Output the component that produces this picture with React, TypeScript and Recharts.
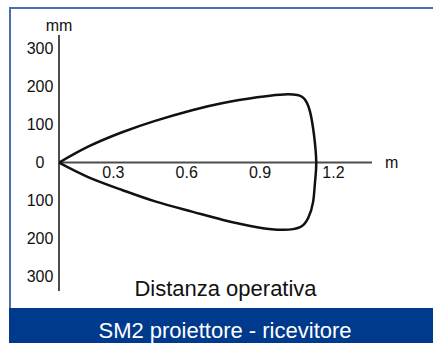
import { LineChart, Line, XAxis, YAxis, ReferenceLine, ReferenceDot } from 'recharts';

// operating area of the SM2 pair: distance (m) vs lateral offset (mm)
const distanceM = [0, 0.119, 0.258, 0.393, 0.544, 0.671, 0.81, 0.904, 0.974, 1.007, 1.027, 1.043, 1.052, 1.047, 1.039, 1.019, 0.986, 0.917, 0.81, 0.671, 0.544, 0.393, 0.258, 0.119, 0];
const offsetMm = [0, 42, 80, 110, 138, 157, 172, 179, 178, 165, 133, 72, 0, -51, -104, -146, -170, -177, -170, -151, -129, -102, -72, -38, 0];

const xTicks = [0.3, 0.6, 0.9, 1.2];
const yTicks = [300, 200, 100, 0, -100, -200, -300];

const FONT = '"Liberation Sans", Arial, sans-serif';
const AXIS = '#4d4d4d';

const data = distanceM.map((d, i) => ({ d, w: offsetMm[i] }));

const YTick = (props: any) => (
  <text x={props.x} y={props.y} dy="0.35em" textAnchor="middle" fontSize={16} fill="#111" fontFamily={FONT}>
    {Math.abs(props.payload.value)}
  </text>
);

export default function App() {
  return (
    <div style={{ position: 'absolute', left: 0, top: 0, width: 433, height: 343, background: '#fff', fontFamily: FONT }}>
      <div
        style={{
          position: 'absolute',
          left: 9,
          top: 7,
          right: 0,
          bottom: 0,
          borderTop: '2px solid #4a6fb0',
          borderLeft: '2px solid #4a6fb0',
        }}
      />
      <div style={{ position: 'absolute', left: 9, top: 308, width: 424, height: 35, background: '#003a8c' }} />
      <div style={{ position: 'absolute', left: 0, top: 0 }}>
        <LineChart width={433} height={308} data={data} margin={{ top: 35, right: 61, bottom: 17, left: 0 }}>
          <XAxis dataKey="d" type="number" domain={[0, 1.28]} hide allowDataOverflow />
          <YAxis
            type="number"
            domain={[-338, 336]}
            ticks={yTicks}
            interval={0}
            axisLine={false}
            tickLine={false}
            tickSize={0}
            tickMargin={19}
            width={59}
            tick={<YTick />}
            allowDataOverflow
          />
          <ReferenceLine
            x={0}
            stroke={AXIS}
            strokeWidth={2}
            label={{ value: 'mm', position: 'top', offset: 4, fontSize: 16, fill: '#111', fontFamily: FONT }}
          />
          <ReferenceLine
            y={0}
            stroke={AXIS}
            strokeWidth={2}
            label={{ value: 'm', position: 'right', offset: 13, fontSize: 16, fill: '#111', fontFamily: FONT }}
          />
          {xTicks.map((t) => (
            <ReferenceDot
              key={t}
              x={t}
              y={0}
              r={0}
              fill="none"
              stroke="none"
              label={(p: any) => (
                <text x={p.viewBox.x - 19} y={p.viewBox.y + 15.5} textAnchor="middle" fontSize={16} fill="#111" fontFamily={FONT}>
                  {t.toFixed(1)}
                </text>
              )}
            />
          ))}
          <Line
            dataKey="w"
            type="natural"
            stroke="#111"
            strokeWidth={2.5}
            dot={false}
            isAnimationActive={false}
          />
        </LineChart>
      </div>
      <svg width={433} height={343} style={{ position: 'absolute', left: 0, top: 0, pointerEvents: 'none' }}>
        <text x={225.5} y={296} textAnchor="middle" fontSize={22} fill="#111" fontFamily={FONT}>
          Distanza operativa
        </text>
        <text x={225} y={338} textAnchor="middle" fontSize={22} fill="#fff" fontFamily={FONT}>
          SM2 proiettore - ricevitore
        </text>
      </svg>
    </div>
  );
}
